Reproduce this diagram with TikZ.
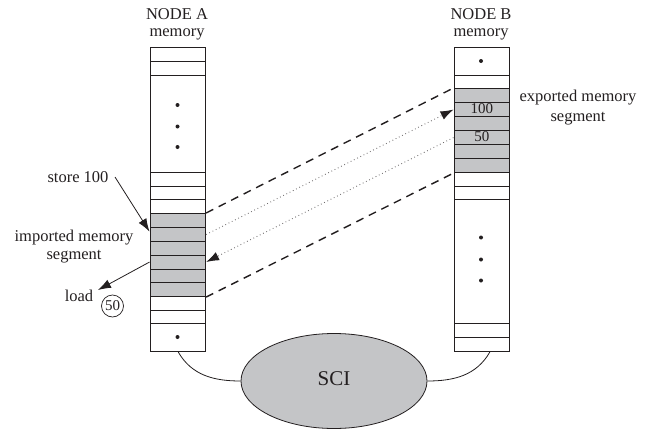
\documentclass[tikz,border=0pt]{standalone}
\usepackage{fontspec}
\setmainfont{Liberation Serif}
\usetikzlibrary{arrows.meta,shapes.geometric}
\definecolor{cellgray}{RGB}{196,197,199}
\definecolor{ink}{RGB}{35,31,32}
\tikzset{
  cell/.style={draw=ink, line width=1.1pt, rectangle, inner sep=0pt, anchor=north west, minimum width=55.5pt},
  lbl/.style={font=\fontsize{16.5}{17}\selectfont, text=ink, inner sep=0pt},
  vdot/.style={circle, fill=ink, inner sep=0pt, minimum size=4pt},
  dashline/.style={draw=ink, line width=1.4pt, dash pattern=on 8pt off 6pt},
  dotarrow/.style={draw=ink!65, line width=0.9pt, dash pattern=on 0.8pt off 2.8pt, -{Latex[length=13pt,width=9pt,color=ink]}},
  solidarrow/.style={draw=ink, line width=0.8pt, -{Latex[length=13pt,width=9pt]}},
  wire/.style={draw=ink, line width=0.8pt},
}
\begin{document}
\begin{tikzpicture}[x=1pt,y=-1pt]
\useasboundingbox (0,0) rectangle (647,428);
% Node A memory column
\foreach \nm/\ya/\yb/\fc in {a1/47/61/white, a2/61/75/white, a3/75/172/white, a4/172/186/white, a5/186/199/white, a6/199/213/white,
  ag1/213/227/cellgray, ag2/227/241/cellgray, ag3/241/254.5/cellgray, ag4/254.5/268.5/cellgray, ag5/268.5/282/cellgray, ag6/282/296/cellgray,
  a7/296/310/white, a8/310/323/white, a9/323/351/white}
  {\node[cell, fill=\fc, minimum height=\yb-\ya] (\nm) at (149.5,\ya) {};}
% Node B memory column
\foreach \nm/\ya/\yb/\fc in {b1/47/75/white, b2/75/88/white,
  bg1/88/102/cellgray, bg2/102/116/cellgray, bg3/116/130/cellgray, bg4/130/144/cellgray, bg5/144/158/cellgray, bg6/158/172/cellgray,
  b3/172/186/white, b4/186/199/white, b5/199/323/white, b6/323/337/white, b7/337/351/white}
  {\node[cell, fill=\fc, minimum height=\yb-\ya] (\nm) at (453.5,\ya) {};}
% dots
\node[vdot] (da1) at (177.5,105) {};
\node[vdot] (da2) at (177.5,126.5) {};
\node[vdot] (da3) at (177.5,147) {};
\node[vdot] (da4) at (177.5,337) {};
\node[vdot] (db1) at (481,61) {};
\node[vdot] (db2) at (481,237.5) {};
\node[vdot] (db3) at (481,259.5) {};
\node[vdot] (db4) at (481,280.5) {};
% values in B
\node[lbl, font=\fontsize{15}{17}\selectfont] (v100) at ([yshift=0.5pt]bg2.center) {100};
\node[lbl, font=\fontsize{15}{17}\selectfont] (v50) at ([yshift=0.5pt]bg4.center) {50};
% titles
\node[lbl, align=center] (ta) at (177,24) {NODE A\\memory};
\node[lbl, align=center] (tb) at (481,24) {NODE B\\memory};
% side labels
\node[lbl, align=center, font=\fontsize{16.5}{20}\selectfont] (exp) at (578,108) {exported memory\\segment};
\node[lbl, align=center, font=\fontsize{16.5}{18}\selectfont] (imp) at (74,247) {imported memory\\segment};
\node[lbl] (store) at (78,177) {store 100};
\node[lbl] (load) at (79,296) {load};
\node[lbl, draw=ink, circle, line width=0.7pt, minimum size=22pt, font=\fontsize{15}{17}\selectfont] (c50) at (112.5,306) {50};
% SCI
\node[ellipse, draw=ink, line width=0.8pt, fill=cellgray, minimum width=186pt, minimum height=95pt, inner sep=0pt] (sci) at (334,381) {};
\node[lbl, font=\fontsize{21}{23}\selectfont] (scit) at ([yshift=2pt]sci.center) {SCI};
% connections
\draw[wire] (a9.south) ++(0.5,0) coordinate (aw) to[out=-60,in=180] (sci.west);
\draw[wire] (b7.south) ++(8,0) coordinate (bw) to[out=-120,in=0] (sci.east);
\draw[dashline] (ag1.north east) -- (bg1.north west);
\draw[dashline] (ag6.south east) -- (bg6.south west);
\draw[dotarrow] (ag2.east) -- (bg2.west);
\draw[dotarrow] (bg4.west) -- (ag4.east);
\coordinate (st) at (115,177);
\draw[solidarrow] (st) -- ([yshift=3pt]ag2.west);
\coordinate (ld) at (98,290);
\draw[solidarrow] (ag4.west) -- (ld);
\end{tikzpicture}
\end{document}
